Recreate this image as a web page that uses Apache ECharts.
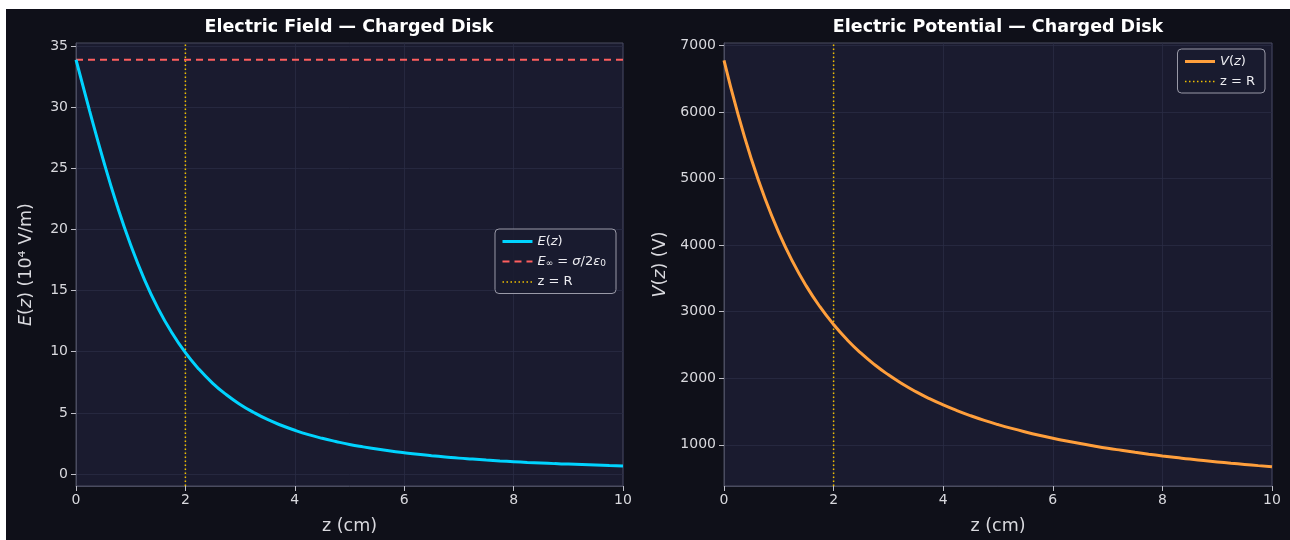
<!DOCTYPE html>
<html>
<head>
<meta charset="utf-8">
<script src="https://cdn.jsdelivr.net/npm/echarts@6/dist/echarts.min.js"></script>
<style>
html,body{margin:0;padding:0;background:#ffffff;}
#c{position:absolute;left:6px;top:9px;width:1284px;height:531px;background:#0f1019;}
</style>
</head>
<body>
<div id="c"></div>
<script>
// z positions (cm)
const zValues = [0,0.25,0.5,0.75,1,1.25,1.5,1.75,2,2.25,2.5,2.75,3,3.25,3.5,3.75,4,4.25,4.5,4.75,5,5.25,5.5,5.75,6,6.25,6.5,6.75,7,7.25,7.5,7.75,8,8.25,8.5,8.75,9,9.25,9.5,9.75,10];
// E(z) in 10^4 V/m
const eField = [33.88,29.68,25.66,21.98,18.73,15.92,13.55,11.57,9.92,8.56,7.42,6.48,5.69,5.03,4.46,3.99,3.58,3.22,2.92,2.66,2.42,2.22,2.04,1.88,1.74,1.61,1.50,1.40,1.30,1.22,1.14,1.07,1.01,0.95,0.90,0.85,0.81,0.77,0.73,0.69,0.66];
// V(z) in V
const potential = [6776,5982,5291,4696,4188,3756,3388,3075,2807,2576,2377,2203,2052,1918,1799,1694,1600,1515,1438,1368,1305,1247,1194,1145,1100,1058,1019,983,949,918,888,860,834,810,786,765,744,724,706,688,671];
// asymptote and disk radius
const eInf = 33.88;
const diskR = 2;
// axis ticks
const xTicks = [0,2,4,6,8,10];
const eTicks = [0,5,10,15,20,25,30,35];
const vTicks = [1000,2000,3000,4000,5000,6000,7000];
const eRange = [-0.98, 35.25];
const vRange = [382, 7036];

const FONT = 'DejaVu Sans';
const TXT = '#d9d9de';
const GRIDC = '#2a2c44';
const BORDER = '#4a4c60';
const CYAN = '#00d4ff';
const RED = '#ff5f5f';
const GOLD = '#f0c000';
const ORANGE = '#ff9f3c';

const chart = echarts.init(document.getElementById('c'), null, {renderer:'canvas'});

function xAxisCfg(gi){
  return {
    type:'value', gridIndex:gi, min:0, max:10, interval:2,
    name:'z (cm)', nameLocation:'middle', nameGap:31,
    nameTextStyle:{color:TXT, fontSize:17.5, fontFamily:FONT},
    axisLine:{show:true, onZero:false, lineStyle:{color:BORDER, width:1}},
    axisTick:{show:true, length:5, inside:false, lineStyle:{color:'#bfbfc8'}},
    axisLabel:{color:TXT, fontSize:14, fontFamily:FONT, margin:7},
    splitLine:{show:true, lineStyle:{color:GRIDC, width:0.8}}
  };
}
function yAxisCfg(gi, range, ticks, name, gap, rich){
  return {
    type:'value', gridIndex:gi, min:range[0], max:range[1], splitNumber:7,
    name:name, nameLocation:'middle', nameGap:gap, nameRotate:90,
    nameTextStyle:{color:TXT, fontSize:17.5, fontFamily:FONT, rich:rich},
    axisLine:{show:true, onZero:false, lineStyle:{color:BORDER, width:1}},
    axisTick:{show:true, length:5, inside:false, customValues:ticks, lineStyle:{color:'#bfbfc8'}},
    axisLabel:{color:TXT, fontSize:14, fontFamily:FONT, margin:8, customValues:ticks,
               formatter:function(v){return String(v);}},
    splitLine:{show:true, lineStyle:{color:GRIDC, width:0.8}}
  };
}

const richName = {
  i:{fontStyle:'italic', color:TXT, fontSize:17.5, fontFamily:FONT},
  n:{color:TXT, fontSize:17.5, fontFamily:FONT}
};
const richLeg = {
  i:{fontStyle:'italic', color:'#ececf0', fontSize:13, fontFamily:FONT},
  n:{color:'#ececf0', fontSize:13, fontFamily:FONT},
  s:{color:'#ececf0', fontSize:9, fontFamily:FONT, padding:[5,0,0,0]}
};

function legendFmt(name){
  if(name==='E(z)') return '{i|E}{n|(}{i|z}{n|)}';
  if(name==='V(z)') return '{i|V}{n|(}{i|z}{n|)}';
  if(name==='E∞') return '{i|E}{s|∞}{n| = }{i|σ}{n|/2}{i|ε}{s|0}';
  return '{n|' + name + '}';
}

const legendBase = {
  orient:'vertical',
  backgroundColor:'rgba(26,27,47,0.85)', borderColor:'#9a9aa8', borderWidth:1, borderRadius:4,
  padding:[6,10,5,6], itemGap:7, itemWidth:30, itemHeight:14,
  itemStyle:{opacity:0, borderWidth:0},
  formatter:legendFmt, textStyle:{color:'#ececf0', fontSize:13, fontFamily:FONT, rich:richLeg}
};

const option = {
  backgroundColor:'#0f1019',
  animation:false,
  title:[
    {text:'Electric Field — Charged Disk', left:343, top:9, padding:0, textAlign:'center',
     textStyle:{color:'#ffffff', fontSize:17.5, fontWeight:'bold', fontFamily:FONT}},
    {text:'Electric Potential — Charged Disk', left:992, top:9, padding:0, textAlign:'center',
     textStyle:{color:'#ffffff', fontSize:17.5, fontWeight:'bold', fontFamily:FONT}}
  ],
  grid:[
    {left:70, top:34, width:547, height:443, show:true, backgroundColor:'#1a1b2f', borderColor:BORDER, borderWidth:1, containLabel:false},
    {left:718, top:34, width:548, height:443, show:true, backgroundColor:'#1a1b2f', borderColor:BORDER, borderWidth:1, containLabel:false}
  ],
  xAxis:[xAxisCfg(0), xAxisCfg(1)],
  yAxis:[
    yAxisCfg(0, eRange, eTicks, '{i|E}{n|(}{i|z}{n|) (10⁴ V/m)}', 41, richName),
    yAxisCfg(1, vRange, vTicks, '{i|V}{n|(}{i|z}{n|) (V)}', 55, richName)
  ],
  legend:[
    Object.assign({}, legendBase, {data:[
      {name:'E(z)', lineStyle:{width:3}},
      {name:'E∞', lineStyle:{width:2}},
      {name:'z = R', lineStyle:{width:1.5}}
    ], right:674, top:220}),
    Object.assign({}, legendBase, {data:[
      {name:'V(z)', lineStyle:{width:3}},
      {name:'z = R', lineStyle:{width:1.5}}
    ], right:25, top:40})
  ],
  series:[
    {name:'E(z)', type:'line', xAxisIndex:0, yAxisIndex:0, smooth:true, symbol:'none',
     data:zValues.map((z,i)=>[z,eField[i]]), lineStyle:{color:CYAN, width:3}, itemStyle:{color:CYAN}, z:5},
    {name:'E∞', type:'line', xAxisIndex:0, yAxisIndex:0, symbol:'none',
     data:[[xTicks[0],eInf],[xTicks[xTicks.length-1],eInf]], lineStyle:{color:RED, width:2, type:[7,5]}, itemStyle:{color:RED}, z:4},
    {name:'z = R', type:'line', xAxisIndex:0, yAxisIndex:0, symbol:'none',
     data:[[diskR,eRange[0]],[diskR,eRange[1]]], lineStyle:{color:GOLD, width:1.5, type:[1.5,2.5]}, itemStyle:{color:GOLD}, z:3},
    {name:'V(z)', type:'line', xAxisIndex:1, yAxisIndex:1, smooth:true, symbol:'none',
     data:zValues.map((z,i)=>[z,potential[i]]), lineStyle:{color:ORANGE, width:3}, itemStyle:{color:ORANGE}, z:5},
    {name:'z = R', type:'line', xAxisIndex:1, yAxisIndex:1, symbol:'none',
     data:[[diskR,vRange[0]],[diskR,vRange[1]]], lineStyle:{color:GOLD, width:1.5, type:[1.5,2.5]}, itemStyle:{color:GOLD}, z:3}
  ]
};
chart.setOption(option);
</script>
</body>
</html>
